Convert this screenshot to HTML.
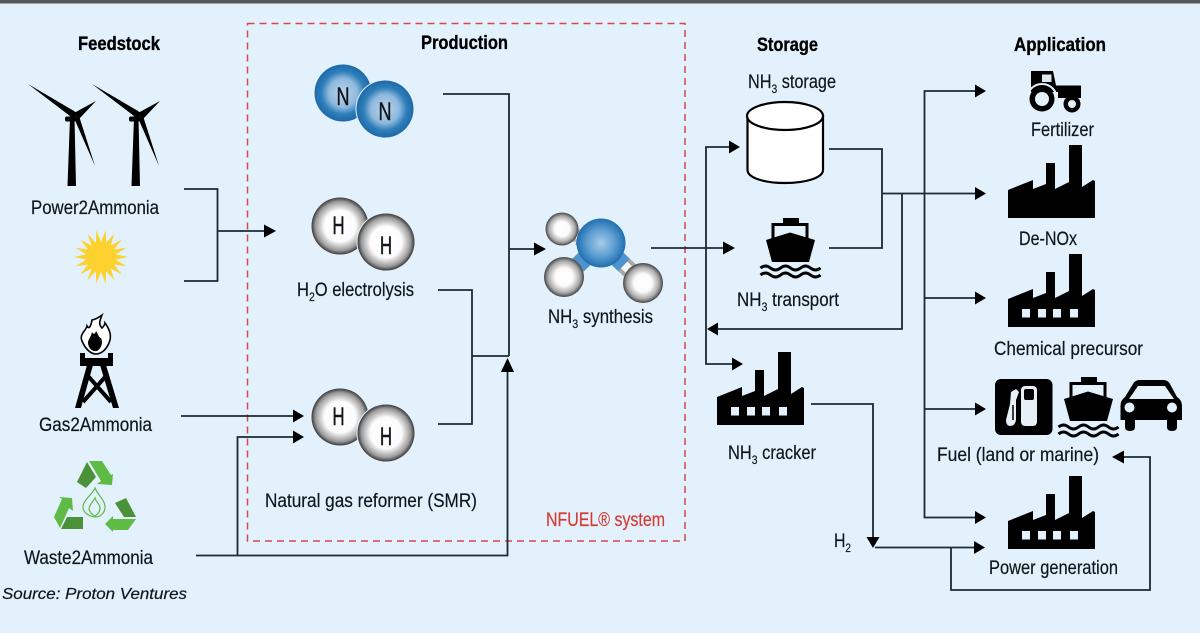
<!DOCTYPE html>
<html><head><meta charset="utf-8"><style>
html,body{margin:0;padding:0;background:#fff}
svg{display:block}
text{font-family:"Liberation Sans Narrow","Liberation Sans",sans-serif;font-size:19px;fill:#10171c;stroke:#10171c;stroke-width:.2}
.b{font-weight:bold;font-size:19.5px;fill:#000;stroke:#000;stroke-width:.35}
.at{font-size:25px;stroke-width:.5}
.l{fill:none;stroke:#1b2a33;stroke-width:1.8}
.a{fill:#000}
</style></head><body>
<svg width="1200" height="641" viewBox="0 0 1200 641" xmlns="http://www.w3.org/2000/svg">
<defs>
<radialGradient id="gn"><stop offset="0" stop-color="#bcd5eb"/><stop offset=".5" stop-color="#8fb9dd"/><stop offset=".75" stop-color="#2f7fba"/><stop offset="1" stop-color="#1d69a8"/></radialGradient>
<radialGradient id="gc"><stop offset="0" stop-color="#a9cbe8"/><stop offset=".55" stop-color="#5f9fd3"/><stop offset="1" stop-color="#1f6fb0"/></radialGradient>
<radialGradient id="gh"><stop offset="0" stop-color="#fff"/><stop offset=".55" stop-color="#fcfcfc"/><stop offset=".86" stop-color="#9a9a9a"/><stop offset="1" stop-color="#3a3a3a"/></radialGradient>
<radialGradient id="gm"><stop offset="0" stop-color="#fff"/><stop offset=".45" stop-color="#fbfbfb"/><stop offset=".8" stop-color="#a8a8a8"/><stop offset="1" stop-color="#444"/></radialGradient>
<g id="turbine">
<polygon points="67.5,186 70,118 74.5,118 76,186" fill="#000"/>
<polygon points="28,84 74,111 78,114 75,120 70,116" fill="#000"/>
<polygon points="74,113 96,101 79,119" fill="#000"/>
<polygon points="74,118 79,116 95,166" fill="#000"/>
<rect x="65" y="116.500" width="11" height="5" rx="2" fill="#000"/>
</g>
<g id="factory">
<polygon points="0,0 0,-28 25,-38 25,-29 38,-34 38,-55 47,-55 47,-29 61,-36 61,-73 74,-73 74,-31 85,-38 87,-37 87,0" fill="#000"/>
</g>
<g id="windows" fill="#e2f1fb">
<rect x="14" y="-18" width="8" height="8.5"/><rect x="30" y="-18" width="8" height="8.5"/><rect x="45" y="-18" width="8" height="8.5"/><rect x="62" y="-18" width="8" height="8.5"/>
</g>
<g id="ship">
<rect x="783" y="218" width="16" height="6" fill="#000"/>
<path d="M773 240V224.500H807V240" fill="none" stroke="#000" stroke-width="3"/>
<polygon points="766,240 790,232.500 815,240 809,262 772,262" fill="#000"/>
<path d="M760.500 268q5-4 10 0t10 0 10 0 10 0 10 0 10 0" fill="none" stroke="#000" stroke-width="3"/>
<path d="M760.500 275q5-4 10 0t10 0 10 0 10 0 10 0 10 0" fill="none" stroke="#000" stroke-width="3"/>
</g>
</defs>
<rect width="1200" height="633" fill="#e2f1fb"/>
<rect width="1200" height="3.500" fill="#555a58"/>

<!-- dashed box -->
<rect x="247.500" y="23.500" width="437.500" height="517.500" fill="none" stroke="#d8474a" stroke-width="1.500" stroke-dasharray="7 5"/>

<!-- headings -->
<text class="b" x="78" y="50" textLength="82" lengthAdjust="spacingAndGlyphs">Feedstock</text>
<text class="b" x="421" y="49" textLength="87" lengthAdjust="spacingAndGlyphs">Production</text>
<text class="b" x="757" y="51" textLength="61" lengthAdjust="spacingAndGlyphs">Storage</text>
<text class="b" x="1014" y="51" textLength="92" lengthAdjust="spacingAndGlyphs">Application</text>

<!-- feedstock -->
<use href="#turbine"/><use href="#turbine" x="64"/>
<text x="31" y="214" textLength="128" lengthAdjust="spacingAndGlyphs">Power2Ammonia</text>
<polygon fill="#fdd22f" points="128,257 115.800,259.600 126.400,266.200 114,264.500 121.700,274.400 110.600,268.500 114.500,280.400 106.100,271.100 105.700,283.600 101,272 96.300,283.600 95.900,271.100 87.500,280.400 91.400,268.500 80.300,274.400 88,264.500 75.600,266.200 86.200,259.600 74,257 86.200,254.400 75.600,247.800 88,249.500 80.300,239.600 91.400,245.500 87.500,233.600 95.900,242.900 96.300,230.400 101,242 105.700,230.400 106.100,242.900 114.500,233.600 110.600,245.500 121.700,239.600 114,249.500 126.400,247.800 115.800,254.400"/>
<path class="l" d="M184 189H217.500V281H184M218 231H265"/>
<polygon class="a" points="276,231 264,224.500 264,237.500"/>

<!-- gas tower -->
<g>
<path d="M82 341C79 334 86 331 87 326C89 330 91 326 92 320C97 319 99 317 102 315C100 320 98 324 102 328C104 326 105 324 105 323C110 330 112 336 109 343C106 350 101 354 96 354C90 354 85 348 82 341Z" fill="#fff" stroke="#000" stroke-width="1.600"/>
<path d="M88 342C89 338 91 337 92 332C93 334 95 335 96 331C98 334 99 338 101 338C103 342 102 348 97 351C92 352 88 348 88 342Z" fill="#000"/>
<path d="M80 353H85V358H108V353H113V366H80Z" fill="#000"/>
<polygon points="87,365 93,365 81,408 75,408" fill="#000"/>
<polygon points="100,365 106,365 119,408 113,408" fill="#000"/>
<path d="M88 376L111 402M106 376L83 402" fill="none" stroke="#000" stroke-width="4"/>
</g>
<text x="39" y="431" textLength="113" lengthAdjust="spacingAndGlyphs">Gas2Ammonia</text>

<!-- recycling -->
<g>
<polygon fill="#4a9137" points="77,482 87,462 96,477 86,488"/>
<polygon fill="#5dbb46" points="89,461 102,461 111,475 113,474 112,485 97,484 101,481"/>
<polygon fill="#4a9137" points="115,503 126,498 136,517 124,517"/>
<polygon fill="#5dbb46" points="136,519 128,530 113,530 113,532 105,524 113,516 113,519"/>
<polygon fill="#5dbb46" points="54,517 62,499 59,497 72,498 73,511 69,508 60,528"/>
<polygon fill="#4a9137" points="61,529 67,517 83,517 83,529"/>
<path d="M95 488C97 494 105 500 105 507C105 513 100 517 96 517C90 517 83 513 83 507C83 500 92 495 95 488ZM95 498C93 502 89 505 89 509C90 513 93 515 95 516C98 514 100 512 100 508C100 504 96 502 95 498Z" fill="none" stroke="#5dbb46" stroke-width="1.200"/>
</g>
<text x="24" y="564" textLength="129" lengthAdjust="spacingAndGlyphs">Waste2Ammonia</text>
<text x="2" y="599" textLength="185" lengthAdjust="spacingAndGlyphs" style="font-family:'Liberation Sans',sans-serif;font-style:italic;font-size:16px">Source: Proton Ventures</text>

<!-- production connectors -->
<path class="l" d="M443 94H509V356M438 290H472V424H438M472 356H509M509 249H535"/>
<polygon class="a" points="546,249 534,242.500 534,255.500"/>
<path class="l" d="M181 416H293M196 555.500H507.500V370M237.500 555V437H293"/>
<polygon class="a" points="304,416 293,409.500 293,422.500"/>
<polygon class="a" points="304,437 293,430.500 293,443.500"/>
<polygon class="a" points="507.500,358 501,372 514,372"/>

<!-- atoms -->
<circle cx="343" cy="93" r="28.500" fill="url(#gn)"/>
<circle cx="385" cy="109" r="29.500" fill="#e2f1fb"/>
<circle cx="385" cy="109" r="28.500" fill="url(#gn)"/>
<text class="at" x="336.500" y="105" textLength="13" lengthAdjust="spacingAndGlyphs">N</text>
<text class="at" x="378.500" y="120" textLength="13" lengthAdjust="spacingAndGlyphs">N</text>

<circle cx="340" cy="226" r="28.500" fill="url(#gh)"/>
<circle cx="386" cy="242" r="29.500" fill="#e2f1fb"/>
<circle cx="386" cy="242" r="28.500" fill="url(#gh)"/>
<text class="at" x="332.500" y="234" textLength="12" lengthAdjust="spacingAndGlyphs">H</text>
<text class="at" x="380" y="254" textLength="12" lengthAdjust="spacingAndGlyphs">H</text>
<text x="297" y="296" textLength="117" lengthAdjust="spacingAndGlyphs">H<tspan dy="5" style="font-size:12px">2</tspan><tspan dy="-5">O electrolysis</tspan></text>

<circle cx="340" cy="417" r="28.500" fill="url(#gh)"/>
<circle cx="386" cy="433" r="29.500" fill="#e2f1fb"/>
<circle cx="386" cy="433" r="28.500" fill="url(#gh)"/>
<text class="at" x="332.500" y="425" textLength="12" lengthAdjust="spacingAndGlyphs">H</text>
<text class="at" x="380" y="445" textLength="12" lengthAdjust="spacingAndGlyphs">H</text>
<text x="265" y="507" textLength="212" lengthAdjust="spacingAndGlyphs">Natural gas reformer (SMR)</text>
<text x="546" y="526" textLength="119" lengthAdjust="spacingAndGlyphs" style="fill:#d63a35;stroke:#d63a35">NFUEL® system</text>

<!-- NH3 molecule -->
<g>
<path d="M601 243L566 232" stroke="#b8b8b8" stroke-width="14"/>
<path d="M601 243L566 232" stroke="#f4f6f7" stroke-width="7"/>
<path d="M601 243L566 277M601 243L641 281" stroke="#a8a8a8" stroke-width="17"/>
<path d="M601 243L566 277M601 243L641 281" stroke="#f4f6f7" stroke-width="9"/>
<path d="M601 243L578 265M601 243L624 265" stroke="#4d94cf" stroke-width="17"/>
<path d="M601 243L577 238" stroke="#4d94cf" stroke-width="14"/>
<circle cx="562" cy="229" r="16.500" fill="url(#gm)"/>
<circle cx="564" cy="277" r="20" fill="url(#gm)"/>
<circle cx="643" cy="283" r="20" fill="url(#gm)"/>
<circle cx="601" cy="243" r="24.500" fill="url(#gc)"/>
</g>
<text x="548" y="323" textLength="105" lengthAdjust="spacingAndGlyphs">NH<tspan dy="5" style="font-size:12px">3</tspan><tspan dy="-5"> synthesis</tspan></text>

<!-- storage -->
<path class="l" d="M651 248H724"/>
<polygon class="a" points="735,248 723,241.500 723,254.500"/>
<text x="748" y="88" textLength="88" lengthAdjust="spacingAndGlyphs">NH<tspan dy="5" style="font-size:12px">3</tspan><tspan dy="-5"> storage</tspan></text>
<path d="M747.500 116V170C747.500 178 765 183 785 183S823 178 823 170V116Z" fill="#fff" stroke="#000" stroke-width="2.200"/>
<ellipse cx="785" cy="116" rx="38" ry="14" fill="#fff" stroke="#000" stroke-width="2.200"/>
<path class="l" d="M730 147H706V364H733"/>
<polygon class="a" points="740,147 729,140.500 729,153.500"/>
<polygon class="a" points="743,364 732,357.500 732,370.500"/>
<polygon class="a" points="707,329 718,322.500 718,335.500"/>
<path class="l" d="M717 329H902V193.500"/>
<path class="l" d="M829 149H882V248H829M882 193.500H975"/>
<use href="#ship"/>
<text x="737" y="306" textLength="102" lengthAdjust="spacingAndGlyphs">NH<tspan dy="5" style="font-size:12px">3</tspan><tspan dy="-5"> transport</tspan></text>

<!-- cracker -->
<use href="#factory" x="717" y="425"/><use href="#windows" x="717" y="425"/>
<text x="728" y="459" textLength="88" lengthAdjust="spacingAndGlyphs">NH<tspan dy="5" style="font-size:12px">3</tspan><tspan dy="-5"> cracker</tspan></text>
<path class="l" d="M811 404H873V537M875 547.500H974M951 548V590H1150V457H1123"/>
<polygon class="a" points="873,548 866.500,537 879.500,537"/>
<text x="834" y="547" textLength="17" lengthAdjust="spacingAndGlyphs">H<tspan dy="5" style="font-size:12px">2</tspan></text>
<polygon class="a" points="985,547.500 974,541 974,554"/>
<polygon class="a" points="1112,457 1124,450.500 1124,463.500"/>

<!-- application bus -->
<path class="l" d="M975 91H924.500V517.500H975M924 298H975M924 409H975"/>
<polygon class="a" points="986,91 975,84.500 975,97.500"/>
<polygon class="a" points="986,193.500 975,187 975,200"/>
<polygon class="a" points="986,298 975,291.500 975,304.500"/>
<polygon class="a" points="986,409 975,402.500 975,415.500"/>
<polygon class="a" points="986,517.500 975,511 975,524"/>

<!-- tractor -->
<g>
<path d="M1031 71H1053L1056 85.500H1081V98H1058V92H1031Z" fill="#000"/>
<rect x="1042" y="74.500" width="9.500" height="7.500" fill="#dfe8ee"/>
<path d="M1027 99A15 15 0 0 1 1057 99" fill="none" stroke="#e2f1fb" stroke-width="2"/>
<circle cx="1042" cy="99" r="12.500" fill="#000"/>
<circle cx="1042" cy="99" r="7" fill="#e2f1fb"/>
<circle cx="1072" cy="104" r="8.500" fill="#000"/>
<circle cx="1072" cy="104" r="4" fill="#e2f1fb"/>
</g>
<text x="1031" y="136" textLength="63" lengthAdjust="spacingAndGlyphs">Fertilizer</text>

<use href="#factory" x="1008" y="218"/>
<text x="1019" y="245" textLength="58" lengthAdjust="spacingAndGlyphs">De-NOx</text>
<use href="#factory" x="1008" y="327"/><use href="#windows" x="1008" y="327"/>
<text x="994" y="355" textLength="149" lengthAdjust="spacingAndGlyphs">Chemical precursor</text>

<!-- fuel -->
<rect x="995" y="379" width="57.500" height="56" rx="6" fill="#000"/>
<rect x="1021" y="386" width="16" height="40" rx="4" fill="#e6f0f6"/>
<rect x="1024" y="389" width="10" height="11" rx="2" fill="#000"/>
<path d="M1011 392L1016 389L1019 392L1016 400V420Q1015 426 1010.500 426Q1006 426 1006 420L1010 404Z" fill="#e6f0f6"/>
<path d="M1013 405V420" stroke="#000" stroke-width="1.500"/>
<use href="#ship" x="298" y="159"/>
<g>
<path d="M1140 380H1163Q1168 380 1170 384L1177 397Q1182 400 1182 406V420H1177V427Q1177 431 1172 431Q1167 431 1167 427V420H1135V427Q1135 431 1130 431Q1125 431 1125 427V420H1120.500V406Q1120.500 400 1125 397L1133 384Q1135 380 1140 380Z" fill="#000"/>
<polygon points="1138,386 1165,386 1174,399 1129,399" fill="#e2f1fb"/>
<circle cx="1129.500" cy="407.500" r="5" fill="#e2f1fb"/>
<circle cx="1172" cy="407.500" r="5" fill="#e2f1fb"/>
</g>
<text x="937" y="461" textLength="162" lengthAdjust="spacingAndGlyphs">Fuel (land or marine)</text>

<use href="#factory" x="1008" y="549"/><use href="#windows" x="1008" y="549"/>
<text x="989" y="574" textLength="129" lengthAdjust="spacingAndGlyphs">Power generation</text>
</svg>
</body></html>
